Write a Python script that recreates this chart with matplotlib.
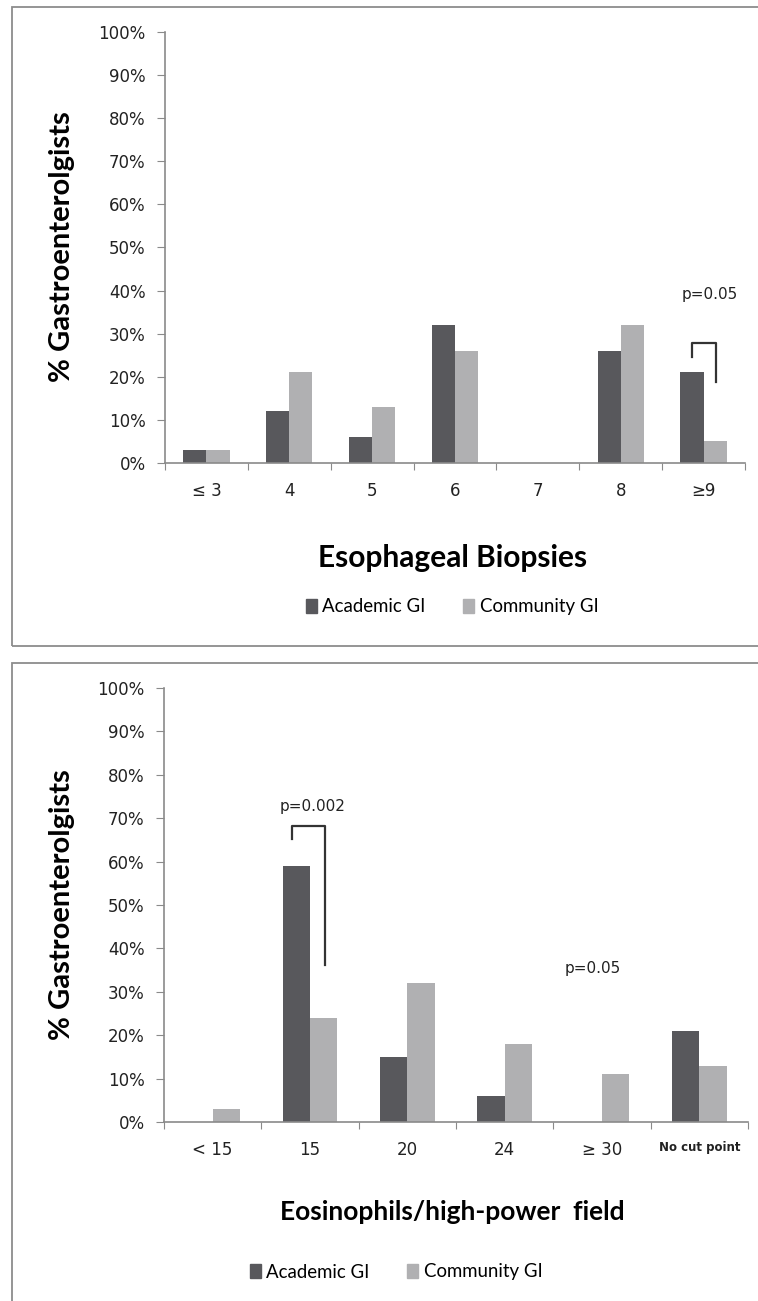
import numpy as np
import matplotlib.pyplot as plt
from matplotlib.patches import Rectangle, Patch

# top panel: esophageal biopsies
biopsy_cats = ["\u2264 3", "4", "5", "6", "7", "8", "\u22659"]
biopsy_academic = [3, 12, 6, 32, 0, 26, 21]
biopsy_community = [3, 21, 13, 26, 0, 32, 5]

# bottom panel: eosinophil cut points
eos_cats = ["< 15", "15", "20", "24", "\u2265 30", "No cut point"]
eos_academic = [0, 59, 15, 6, 0, 21]
eos_community = [3, 24, 32, 18, 11, 13]

DARK = "#58585c"
LIGHT = "#b0b0b2"
AXC = "#8a8a8a"
W, H = 758, 1301

fig = plt.figure(figsize=(W/100, H/100), dpi=100)

def px(x0, y_top, x1, y_bot):
	return [x0/W, 1 - y_bot/H, (x1 - x0)/W, (y_bot - y_top)/H]

# panel frames
for y0, y1 in [(7, 646), (663, 1320)]:
	fig.patches.append(Rectangle((12/W, 1 - y1/H), (W + 20)/W, (y1 - y0)/H,
		transform=fig.transFigure, fill=False, ec="#8c8c8c", lw=1.3))

def panel(rect, cats, acad, comm, small_last=False):
	ax = fig.add_axes(rect)
	n = len(cats)
	x = np.arange(n) + 0.5
	w = 0.28
	ax.bar(x - w, acad, w, align="edge", color=DARK)
	ax.bar(x, comm, w, align="edge", color=LIGHT)
	ax.set_xlim(0, n)
	ax.set_ylim(0, 100)
	for s in ["top", "right"]:
		ax.spines[s].set_visible(False)
	for s in ["left", "bottom"]:
		ax.spines[s].set_color(AXC)
		ax.spines[s].set_linewidth(1.2)
	ax.set_yticks(range(0, 101, 10))
	ax.set_yticklabels([f"{v}%" for v in range(0, 101, 10)], fontsize=12, color="#222222")
	ax.tick_params(axis="y", length=6, color=AXC, pad=8, direction="out")
	ax.set_xticks(range(n + 1))
	ax.set_xticklabels([])
	ax.tick_params(axis="x", which="major", length=5, color=AXC, direction="out")
	ax.set_xticks(x, minor=True)
	ax.set_xticklabels(cats, minor=True, fontsize=12, color="#222222")
	ax.tick_params(axis="x", which="minor", length=0, pad=14)
	if small_last:
		lab = ax.get_xticklabels(minor=True)[-1]
		lab.set_fontsize(8.5)
		lab.set_fontweight("bold")
	return ax

ax1 = panel(px(165, 32, 745, 463), biopsy_cats, biopsy_academic, biopsy_community)
ax2 = panel(px(164, 688, 748, 1122), eos_cats, eos_academic, eos_community, small_last=True)

# significance brackets
ax1.plot([6.36, 6.36, 6.65, 6.65], [24.6, 27.8, 27.8, 18.8], color="#333333", lw=1.6)
ax1.text(6.58, 39.2, "p=0.05", ha="center", va="center", fontsize=11, color="#222222")
ax2.plot([1.32, 1.32, 1.65, 1.65], [65.2, 68.2, 68.2, 36.2], color="#333333", lw=1.6)
ax2.text(1.53, 72.6, "p=0.002", ha="center", va="center", fontsize=11, color="#222222")
ax2.text(4.40, 35.3, "p=0.05", ha="center", va="center", fontsize=11, color="#222222")

# axis titles
for cy in [247, 905]:
	fig.text(62/W, 1 - cy/H, "% Gastroenterolgists", rotation=90, ha="center", va="center",
		fontsize=21, fontweight="bold", family="Lato")
fig.text(453/W, 1 - 558/H, "Esophageal Biopsies", ha="center", va="center",
	fontsize=21.5, fontweight="bold", family="Lato")
fig.text(452/W, 1 - 1212/H, "Eosinophils/high-power  field", ha="center", va="center",
	fontsize=19, fontweight="bold", family="Lato")

handles = [Patch(color=DARK, label="Academic GI"), Patch(color=LIGHT, label="Community GI")]
for cx, cy in [(452, 607), (396, 1272)]:
	fig.legend(handles=handles, loc="center", bbox_to_anchor=(cx/W, 1 - cy/H), ncol=2,
		frameon=False, handlelength=0.6, handleheight=0.8, handletextpad=0.3,
		columnspacing=2.0, prop={"family": "Lato", "size": 13.4})

fig.savefig("out.png", dpi=100)
